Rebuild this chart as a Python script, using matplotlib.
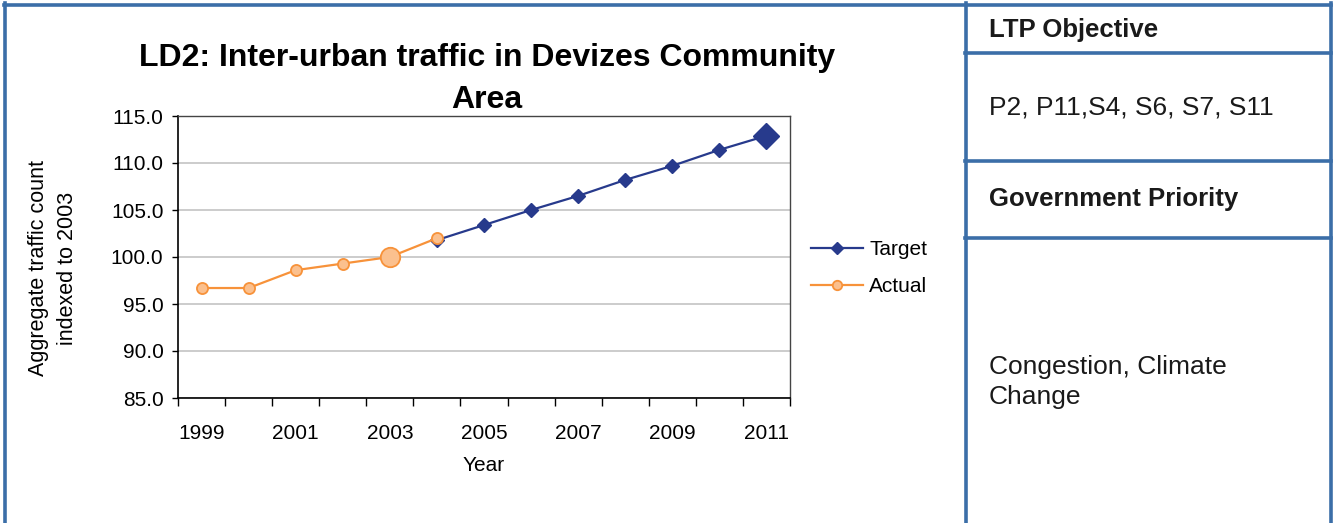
import numpy as np
import matplotlib
matplotlib.use("Agg")
import matplotlib.pyplot as plt
from matplotlib.lines import Line2D

plt.rcParams["font.family"] = ["Liberation Sans", "DejaVu Sans"]

# data
actual_years = [1999, 2000, 2001, 2002, 2003, 2004]
actual = [96.7, 96.7, 98.6, 99.3, 100.0, 102.0]
target_years = [2004, 2005, 2006, 2007, 2008, 2009, 2010, 2011]
target = [101.8, 103.4, 105.0, 106.5, 108.2, 109.7, 111.4, 112.9]
label_years = [1999, 2001, 2003, 2005, 2007, 2009, 2011]
y_ticks = [85.0, 90.0, 95.0, 100.0, 105.0, 110.0, 115.0]

NAVY = "#273A8C"
ORANGE = "#F7923A"
ORANGE_FACE = "#FBC08E"
FRAME = "#3B6EA8"

W, H = 1335, 523
fig = plt.figure(figsize=(W / 100, H / 100), dpi=100)


def fx(px):
    return px / W


def fy(py):
    return 1 - py / H


# =============================
# Chart
# =============================
ax = fig.add_axes([fx(178), fy(398), fx(790) - fx(178), fy(116) - fy(398)])

ax.plot(target_years, target, color=NAVY, lw=1.6, marker="D", ms=7.5,
        mfc=NAVY, mec=NAVY, label="Target", zorder=3)
ax.plot(target_years[-1], target[-1], ls="none", marker="D", ms=13,
        mfc=NAVY, mec=NAVY, zorder=3)
ax.plot(actual_years, actual, color=ORANGE, lw=1.6, marker="o", ms=8,
        mfc=ORANGE_FACE, mec=ORANGE, mew=1.3, label="Actual", zorder=4)
i03 = actual_years.index(2003)
ax.plot(actual_years[i03], actual[i03], ls="none", marker="o", ms=14,
        mfc=ORANGE_FACE, mec=ORANGE, mew=1.3, zorder=4)

ax.set_xlim(1998.5, 2011.5)
ax.set_ylim(85, 115)
ax.set_yticks(y_ticks)
ax.set_yticklabels([f"{v:.1f}" for v in y_ticks])
ax.set_xticks(label_years)
ax.set_xticks(np.arange(1998.5, 2012, 1.0), minor=True)
ax.tick_params(axis="x", which="major", length=0, pad=19, labelsize=15)
ax.tick_params(axis="x", which="minor", length=6, direction="out", width=1)
ax.tick_params(axis="y", length=4.5, width=1, labelsize=15, pad=6)

ax.grid(axis="y", color="#C8C8C8", lw=1.3)
ax.set_axisbelow(True)
for s in ["left", "bottom"]:
    ax.spines[s].set_color("black")
    ax.spines[s].set_linewidth(1.2)
for s in ["top", "right"]:
    ax.spines[s].set_color("#444444")
    ax.spines[s].set_linewidth(1.0)

ax.set_xlabel("Year", fontsize=15, labelpad=9)
fig.text(fx(53), fy(268), "Aggregate traffic count\nindexed to 2003",
         rotation=90, ha="center", va="center", fontsize=15.5, linespacing=1.45)

# title, two lines as in the original
fig.text(fx(487), fy(58), "LD2: Inter-urban traffic in Devizes Community",
         ha="center", va="center", fontsize=23, fontweight="bold")
fig.text(fx(487), fy(100), "Area",
         ha="center", va="center", fontsize=23, fontweight="bold")

ax.legend(loc="center left", bbox_to_anchor=(fx(792), fy(268)),
          bbox_transform=fig.transFigure, frameon=False, fontsize=15,
          handlelength=2.5, handletextpad=0.3, labelspacing=0.85,
          markerscale=0.85)

# =============================
# Frame and side panel
# =============================
lw = 2.6
fig.add_artist(Line2D([fx(4), fx(1331)], [fy(4.5), fy(4.5)], color=FRAME, lw=lw))
fig.add_artist(Line2D([fx(5), fx(5)], [fy(3), fy(523)], color=FRAME, lw=lw))
fig.add_artist(Line2D([fx(965.5), fx(965.5)], [fy(3), fy(523)], color=FRAME, lw=lw))
fig.add_artist(Line2D([fx(1330.5), fx(1330.5)], [fy(3), fy(523)], color=FRAME, lw=lw))
for yy in [52.5, 161, 237.5]:
    fig.add_artist(Line2D([fx(965), fx(1331)], [fy(yy), fy(yy)], color=FRAME, lw=lw))

fig.text(fx(989), fy(30), "LTP Objective", ha="left", va="center",
         fontsize=18.5, fontweight="bold", color="#1A1A1A")
fig.text(fx(989), fy(108), "P2, P11,S4, S6, S7, S11", ha="left", va="center",
         fontsize=19, color="#1A1A1A")
fig.text(fx(989), fy(199), "Government Priority", ha="left", va="center",
         fontsize=18.5, fontweight="bold", color="#1A1A1A")
fig.text(fx(989), fy(382), "Congestion, Climate\nChange", ha="left", va="center",
         fontsize=19, color="#1A1A1A", linespacing=1.35)

fig.savefig("out.png", dpi=100)
